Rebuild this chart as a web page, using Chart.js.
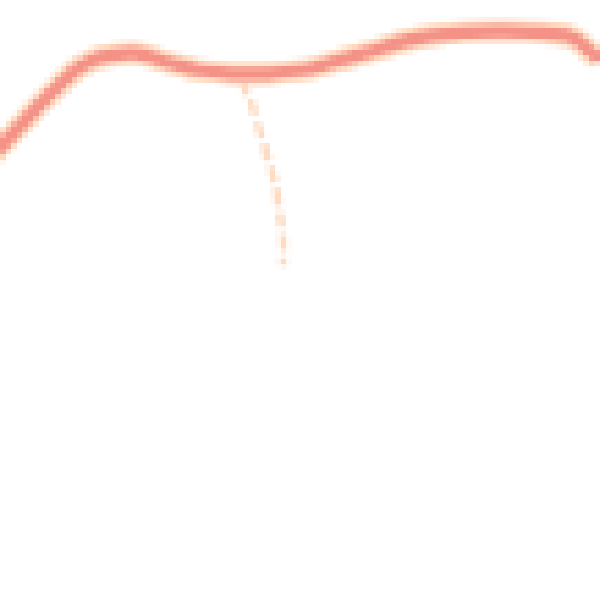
<!DOCTYPE html>
<html>
<head>
<meta charset="utf-8">
<script src="https://cdn.jsdelivr.net/npm/chart.js@4.4.1/dist/chart.umd.min.js"></script>
<style>
  html, body { margin: 0; padding: 0; background: #fff; }
  #chart { width: 600px; height: 600px; image-rendering: pixelated; display: block; }
</style>
</head>
<body>
<canvas id="chart" width="109" height="109" style="width:600px;height:600px"></canvas>
<script>
// values (x: 0-100 across, y: 0-100 up)
const lineX = [-5, 0, 5.5, 11.2, 13.3, 16.7, 22.2, 27.8, 33.3, 38.8, 44.5, 50, 55.5, 61.2, 66.7, 72.2, 77.8, 83.3, 88.8, 94.5, 96.7, 98.3, 100, 105];
const lineY = [70, 75.5, 81.5, 87.2, 88.9, 90.5, 91.2, 89.7, 88.3, 87.8, 87.8, 88.3, 89.7, 91.3, 93, 94.2, 94.7, 94.8, 94.7, 94.2, 93, 91.5, 90.2, 86];

const dashX = [40.5, 40.8, 42, 42.7, 43.7, 44.5, 45.5, 46.3, 47.2, 47.2];
const dashY = [87, 85.3, 82.5, 80, 77, 74, 70.8, 66.7, 60, 55.8];

const toPoints = (xs, ys) => xs.map((x, i) => ({ x: x, y: ys[i] }));

const ctx = document.getElementById("chart").getContext("2d");
const chart = new Chart(ctx, {
    type: "line",
    data: {
        datasets: [{
            label: "line",
            data: toPoints(lineX, lineY),
            borderColor: "rgb(244, 146, 136)",
            borderWidth: 2.2,
            tension: 0.35,
            pointRadius: 0,
            fill: false
        }, {
            label: "line halo",
            data: toPoints(lineX, lineY),
            borderColor: "rgb(255, 218, 192)",
            borderWidth: 4.2,
            tension: 0.35,
            pointRadius: 0,
            fill: false
        }, {
            label: "drop",
            data: toPoints(dashX, dashY),
            borderColor: "rgb(255, 219, 194)",
            borderWidth: 1.4,
            borderDash: [3, 1.2],
            tension: 0.4,
            pointRadius: 0,
            fill: false
        }]
    },
    options: {
        responsive: false,
        devicePixelRatio: 1,
        animation: false,
        layout: { padding: 0 },
        plugins: {
            legend: { display: false },
            tooltip: { enabled: false }
        },
        scales: {
            x: { type: "linear", min: 0, max: 100, display: false },
            y: { type: "linear", min: 0, max: 100, display: false }
        }
    }
});
</script>
</body>
</html>
